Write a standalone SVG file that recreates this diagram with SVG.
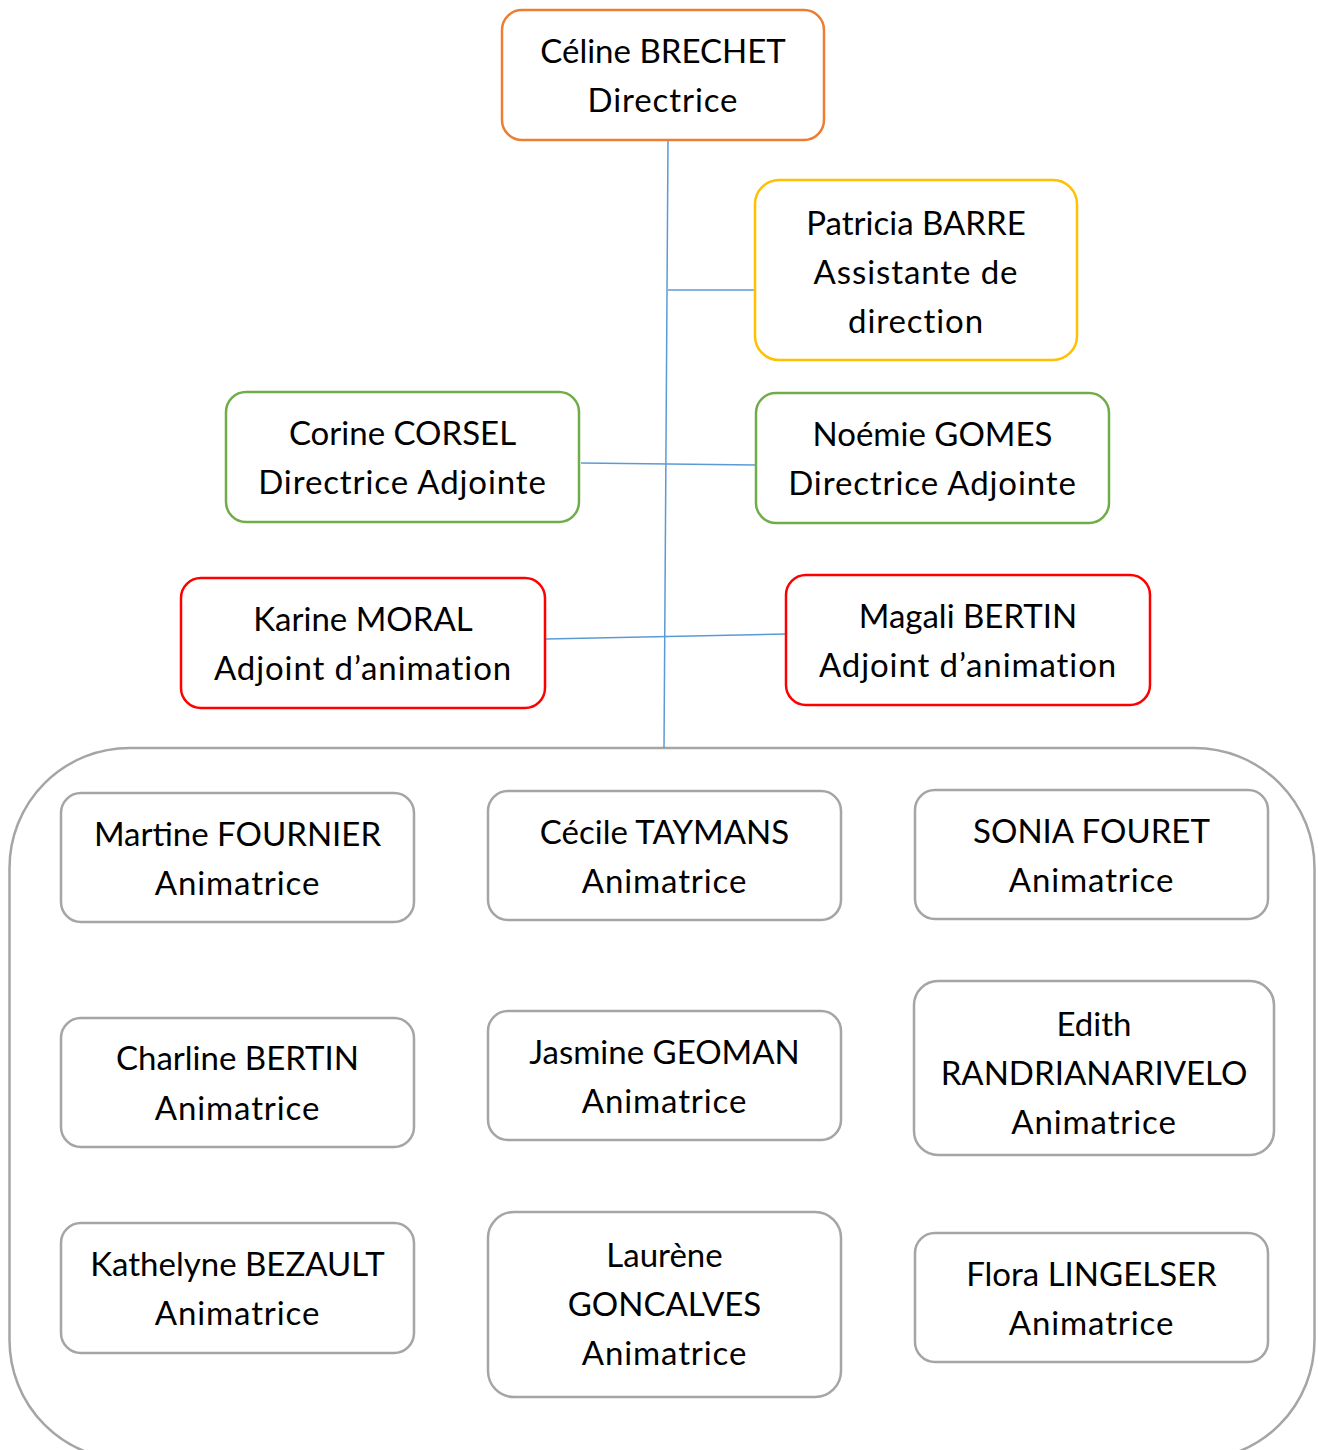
<svg xmlns="http://www.w3.org/2000/svg" width="1318" height="1450" viewBox="0 0 1318 1450">
<style>
.box{fill:#fff;stroke-width:2.5}
.o{stroke:#ED7D31}.y{stroke:#FFC000}.g{stroke:#70AD47}.r{stroke:#FF0000}.k{stroke:#A5A5A5}
text{font-family:Lato,"Liberation Sans",sans-serif;font-size:33px;fill:#000;text-anchor:middle}
text.l{letter-spacing:0.9px}
.c{stroke:#5B9BD5;stroke-width:1.5;fill:none}
</style>
<rect width="1318" height="1450" fill="#fff"/>
<g id="team"><rect class="box k" x="9.5" y="748" width="1305" height="712" rx="120"/></g>
<g id="connectors">
<line class="c" x1="668" y1="141" x2="664" y2="748"/>
<line class="c" x1="668" y1="290" x2="756" y2="290"/>
<line class="c" x1="581" y1="463" x2="756" y2="465"/>
<line class="c" x1="546" y1="639" x2="786" y2="634"/>
</g>
<g id="celine"><rect class="box o" x="502" y="10" width="322" height="130" rx="20"/><text x="663" y="63">Céline BRECHET</text><text class="l" x="663" y="112">Directrice</text></g>
<g id="patricia"><rect class="box y" x="755" y="180" width="322" height="180" rx="24"/><text x="916" y="235">Patricia BARRE</text><text class="l" x="916" y="284">Assistante de</text><text class="l" x="916" y="333">direction</text></g>
<g id="corine"><rect class="box g" x="226" y="392" width="353" height="130" rx="20"/><text x="402.5" y="445">Corine CORSEL</text><text class="l" x="402.5" y="494">Directrice Adjointe</text></g>
<g id="noemie"><rect class="box g" x="756" y="393" width="353" height="130" rx="20"/><text x="932.5" y="446">Noémie GOMES</text><text class="l" x="932.5" y="495">Directrice Adjointe</text></g>
<g id="karine"><rect class="box r" x="181" y="578" width="364" height="130" rx="20"/><text x="363" y="631">Karine MORAL</text><text class="l" x="363" y="680">Adjoint d’animation</text></g>
<g id="magali"><rect class="box r" x="786" y="575" width="364" height="130" rx="20"/><text x="968" y="628">Magali BERTIN</text><text class="l" x="968" y="677">Adjoint d’animation</text></g>
<g id="martine"><rect class="box k" x="61" y="793" width="353" height="129" rx="20"/><text x="237.5" y="846">Martine FOURNIER</text><text class="l" x="237.5" y="895">Animatrice</text></g>
<g id="cecile"><rect class="box k" x="488" y="791" width="353" height="129" rx="20"/><text x="664.5" y="844">Cécile TAYMANS</text><text class="l" x="664.5" y="893">Animatrice</text></g>
<g id="sonia"><rect class="box k" x="915" y="790" width="353" height="129" rx="20"/><text x="1091.5" y="843">SONIA FOURET</text><text class="l" x="1091.5" y="892">Animatrice</text></g>
<g id="charline"><rect class="box k" x="61" y="1018" width="353" height="129" rx="20"/><text x="237.5" y="1070">Charline BERTIN</text><text class="l" x="237.5" y="1120">Animatrice</text></g>
<g id="jasmine"><rect class="box k" x="488" y="1011" width="353" height="129" rx="20"/><text x="664.5" y="1064">Jasmine GEOMAN</text><text class="l" x="664.5" y="1113">Animatrice</text></g>
<g id="edith"><rect class="box k" x="914" y="981" width="360" height="174" rx="24"/><text x="1094" y="1036">Edith</text><text x="1094" y="1085">RANDRIANARIVELO</text><text class="l" x="1094" y="1134">Animatrice</text></g>
<g id="kathelyne"><rect class="box k" x="61" y="1223" width="353" height="130" rx="20"/><text x="237.5" y="1276">Kathelyne BEZAULT</text><text class="l" x="237.5" y="1325">Animatrice</text></g>
<g id="laurene"><rect class="box k" x="488" y="1212" width="353" height="185" rx="26"/><text x="664.5" y="1267">Laurène</text><text x="664.5" y="1316">GONCALVES</text><text class="l" x="664.5" y="1365">Animatrice</text></g>
<g id="flora"><rect class="box k" x="915" y="1233" width="353" height="129" rx="20"/><text x="1091.5" y="1286">Flora LINGELSER</text><text class="l" x="1091.5" y="1335">Animatrice</text></g>
</svg>
